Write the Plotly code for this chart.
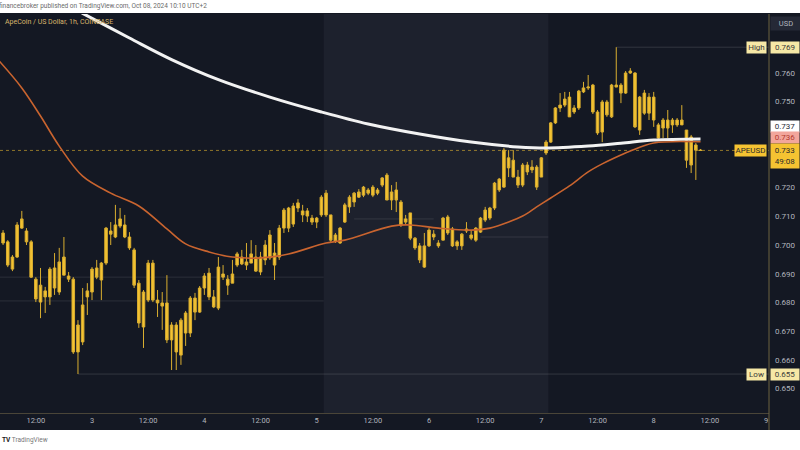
import pandas as pd
import plotly.graph_objects as go

# ---- APE/USD hourly bars (UTC+2), first bar 2024-10-02 05:00 ----
bar_start = "2024-10-02 05:00"

open_ = [
    0.7042, 0.7011, 0.6916, 0.6958, 0.7059, 0.7049, 0.7011, 0.6881, 0.6801, 0.6840,
    0.6819, 0.6920, 0.6836, 0.6895, 0.6892, 0.6881, 0.6627, 0.6662, 0.6819, 0.6836,
    0.6920, 0.6878, 0.6937, 0.7049, 0.7028, 0.7066, 0.7070, 0.7028, 0.6983, 0.6867,
    0.6714, 0.6808, 0.6937, 0.6808, 0.6798, 0.6798, 0.6669, 0.6721, 0.6616, 0.6693,
    0.6693, 0.6815, 0.6766, 0.6850, 0.6902, 0.6819, 0.6780, 0.6899, 0.6881, 0.6867,
    0.6930, 0.6958, 0.6941, 0.6937, 0.6958, 0.6906, 0.6948, 0.6955, 0.6972, 0.6958,
    0.7059, 0.7129, 0.7073, 0.7129, 0.7119, 0.7119, 0.7094, 0.7094, 0.7105, 0.7105,
    0.7105, 0.7035, 0.7007, 0.7080, 0.7133, 0.7150, 0.7167, 0.7174, 0.7192, 0.7174,
    0.7192, 0.7209, 0.7244, 0.7157, 0.7192, 0.7150, 0.7091, 0.7112, 0.7024, 0.6997,
    0.6923, 0.6997, 0.7038, 0.7007, 0.7017, 0.7098, 0.7056, 0.7011, 0.6997, 0.7049,
    0.7035, 0.7017, 0.7045, 0.7087, 0.7094, 0.7129, 0.7192, 0.7202, 0.7304, 0.7296,
    0.7237, 0.7209, 0.7279, 0.7272, 0.7272, 0.7237, 0.7321, 0.7359, 0.7426, 0.7478,
    0.7488, 0.7516, 0.7464, 0.7478, 0.7534, 0.7548, 0.7558, 0.7464, 0.7394, 0.7499,
    0.7447, 0.7551, 0.7558, 0.7530, 0.7600, 0.7600, 0.7401, 0.7530, 0.7516, 0.7516,
    0.7419, 0.7408, 0.7436, 0.7419, 0.7436, 0.7419, 0.7401, 0.7377, 0.7349, 0.7331,
]
high = [
    0.7052, 0.7017, 0.6965, 0.7080, 0.7119, 0.7059, 0.7017, 0.6888, 0.6920, 0.6854,
    0.6923, 0.6972, 0.6990, 0.7028, 0.6906, 0.6888, 0.6738, 0.6850, 0.6867, 0.6923,
    0.6948, 0.6941, 0.7063, 0.7080, 0.7140, 0.7129, 0.7105, 0.7045, 0.6990, 0.6878,
    0.6843, 0.6948, 0.6948, 0.6843, 0.6836, 0.6895, 0.6731, 0.6731, 0.6745, 0.6770,
    0.6822, 0.6833, 0.6857, 0.6902, 0.6920, 0.6843, 0.6958, 0.6930, 0.6895, 0.6948,
    0.6976, 0.6983, 0.7007, 0.7017, 0.7000, 0.6976, 0.7017, 0.7052, 0.7007, 0.7070,
    0.7129, 0.7133, 0.7147, 0.7160, 0.7140, 0.7129, 0.7105, 0.7098, 0.7174, 0.7192,
    0.7105, 0.7042, 0.7063, 0.7147, 0.7174, 0.7185, 0.7195, 0.7206, 0.7199, 0.7209,
    0.7199, 0.7237, 0.7251, 0.7209, 0.7220, 0.7157, 0.7105, 0.7112, 0.7028, 0.7007,
    0.7042, 0.7059, 0.7052, 0.7017, 0.7098, 0.7105, 0.7063, 0.7017, 0.7042, 0.7080,
    0.7052, 0.7063, 0.7098, 0.7133, 0.7133, 0.7220, 0.7234, 0.7338, 0.7331, 0.7331,
    0.7262, 0.7286, 0.7290, 0.7296, 0.7279, 0.7307, 0.7366, 0.7429, 0.7481, 0.7530,
    0.7534, 0.7534, 0.7488, 0.7541, 0.7569, 0.7593, 0.7562, 0.7471, 0.7506, 0.7506,
    0.7562, 0.7690, 0.7565, 0.7607, 0.7617, 0.7603, 0.7520, 0.7541, 0.7530, 0.7534,
    0.7426, 0.7443, 0.7471, 0.7443, 0.7443, 0.7488, 0.7401, 0.7384, 0.7356, 0.7335,
]
low = [
    0.7000, 0.6923, 0.6909, 0.6955, 0.7056, 0.7000, 0.6885, 0.6801, 0.6745, 0.6763,
    0.6791, 0.6826, 0.6826, 0.6895, 0.6871, 0.6620, 0.6550, 0.6651, 0.6756, 0.6808,
    0.6881, 0.6808, 0.6930, 0.7000, 0.7024, 0.7059, 0.7024, 0.6983, 0.6850, 0.6711,
    0.6641, 0.6801, 0.6801, 0.6749, 0.6704, 0.6658, 0.6564, 0.6564, 0.6582, 0.6648,
    0.6679, 0.6738, 0.6763, 0.6826, 0.6808, 0.6780, 0.6773, 0.6878, 0.6826, 0.6867,
    0.6923, 0.6930, 0.6913, 0.6937, 0.6906, 0.6895, 0.6930, 0.6948, 0.6878, 0.6948,
    0.7042, 0.7045, 0.7063, 0.7115, 0.7080, 0.7080, 0.7070, 0.7059, 0.7098, 0.7098,
    0.7011, 0.7007, 0.7004, 0.7077, 0.7112, 0.7133, 0.7164, 0.7167, 0.7174, 0.7167,
    0.7174, 0.7202, 0.7157, 0.7122, 0.7115, 0.7063, 0.7070, 0.7017, 0.6983, 0.6937,
    0.6920, 0.6993, 0.7017, 0.6990, 0.7017, 0.7035, 0.6993, 0.6983, 0.6983, 0.7042,
    0.7017, 0.7011, 0.7042, 0.7080, 0.7087, 0.7122, 0.7185, 0.7199, 0.7237, 0.7237,
    0.7199, 0.7202, 0.7244, 0.7251, 0.7192, 0.7237, 0.7314, 0.7356, 0.7422, 0.7464,
    0.7481, 0.7447, 0.7457, 0.7471, 0.7530, 0.7541, 0.7457, 0.7384, 0.7359, 0.7447,
    0.7443, 0.7551, 0.7495, 0.7527, 0.7597, 0.7408, 0.7384, 0.7454, 0.7436, 0.7412,
    0.7366, 0.7373, 0.7373, 0.7391, 0.7412, 0.7419, 0.7269, 0.7251, 0.7227, 0.7328,
]
close = [
    0.7007, 0.6930, 0.6958, 0.7070, 0.7091, 0.7011, 0.6888, 0.6812, 0.6860, 0.6819,
    0.6916, 0.6850, 0.6941, 0.6958, 0.6881, 0.6627, 0.6721, 0.6791, 0.6840, 0.6916,
    0.6888, 0.6937, 0.7059, 0.7038, 0.7070, 0.7091, 0.7028, 0.6990, 0.6860, 0.6728,
    0.6836, 0.6937, 0.6808, 0.6798, 0.6787, 0.6669, 0.6721, 0.6627, 0.6738, 0.6763,
    0.6815, 0.6766, 0.6850, 0.6892, 0.6819, 0.6784, 0.6923, 0.6888, 0.6860, 0.6899,
    0.6969, 0.6934, 0.6930, 0.6969, 0.6909, 0.6958, 0.7000, 0.7035, 0.6930, 0.7059,
    0.7122, 0.7059, 0.7136, 0.7147, 0.7105, 0.7101, 0.7080, 0.7080, 0.7167, 0.7181,
    0.7017, 0.7014, 0.7059, 0.7140, 0.7167, 0.7181, 0.7185, 0.7202, 0.7181, 0.7202,
    0.7181, 0.7234, 0.7157, 0.7185, 0.7157, 0.7070, 0.7080, 0.7024, 0.6990, 0.6948,
    0.6997, 0.7052, 0.7028, 0.6997, 0.7094, 0.7042, 0.6997, 0.6997, 0.7038, 0.7056,
    0.7024, 0.7059, 0.7094, 0.7122, 0.7129, 0.7216, 0.7230, 0.7331, 0.7269, 0.7237,
    0.7209, 0.7279, 0.7255, 0.7262, 0.7202, 0.7304, 0.7359, 0.7426, 0.7478, 0.7488,
    0.7509, 0.7447, 0.7478, 0.7537, 0.7548, 0.7551, 0.7464, 0.7391, 0.7499, 0.7454,
    0.7558, 0.7558, 0.7530, 0.7600, 0.7607, 0.7412, 0.7516, 0.7460, 0.7460, 0.7436,
    0.7373, 0.7436, 0.7408, 0.7436, 0.7419, 0.7436, 0.7296, 0.7279, 0.7331, 0.7330,
]

# ---- moving averages (white: slow, orange: fast) ----
ma_slow_time = [
    "2024-10-02 17:00", "2024-10-02 22:00", "2024-10-03 08:00", "2024-10-03 17:00",
    "2024-10-04 03:00", "2024-10-04 14:00", "2024-10-05 01:00", "2024-10-05 11:00",
    "2024-10-05 22:00", "2024-10-06 09:00", "2024-10-06 19:00", "2024-10-07 01:00",
    "2024-10-07 10:00", "2024-10-07 17:00", "2024-10-08 00:00", "2024-10-08 10:00",
]
ma_slow = [
    0.7849, 0.7808, 0.7722, 0.7647, 0.7577, 0.7516, 0.7464, 0.7422,
    0.7387, 0.7359, 0.7342, 0.7338, 0.7345, 0.7355, 0.7366, 0.7370,
]
ma_fast_time = [
    "2024-10-02 04:00", "2024-10-02 09:00", "2024-10-02 13:00", "2024-10-02 17:00",
    "2024-10-02 22:00", "2024-10-03 04:00", "2024-10-03 10:00", "2024-10-03 16:00",
    "2024-10-03 20:00", "2024-10-04 01:00", "2024-10-04 06:00", "2024-10-04 12:00",
    "2024-10-04 18:00", "2024-10-05 02:00", "2024-10-05 06:00", "2024-10-05 16:00",
    "2024-10-05 20:00", "2024-10-06 02:00", "2024-10-06 09:00", "2024-10-06 13:00",
    "2024-10-06 17:00", "2024-10-06 20:00", "2024-10-06 23:00", "2024-10-07 02:00",
    "2024-10-07 06:00", "2024-10-07 10:00", "2024-10-07 13:00", "2024-10-07 17:00",
    "2024-10-07 19:00", "2024-10-08 00:00", "2024-10-08 10:00",
]
ma_fast = [
    0.7645, 0.7548, 0.7450, 0.7345, 0.7240, 0.7181, 0.7136, 0.7056,
    0.7004, 0.6976, 0.6958, 0.6955, 0.6969, 0.7007, 0.7017, 0.7066,
    0.7070, 0.7059, 0.7052, 0.7059, 0.7080, 0.7101, 0.7133, 0.7164,
    0.7206, 0.7255, 0.7283, 0.7314, 0.7328, 0.7356, 0.7360,
]

# ---- axis ticks ----
price_ticks = [0.650, 0.660, 0.670, 0.680, 0.690, 0.700, 0.710, 0.720, 0.750, 0.760]
time_ticks = pd.date_range("2024-10-02 12:00", "2024-10-09 00:00", freq="12h")
time_tick_text = ["12:00", "3", "12:00", "4", "12:00", "5", "12:00", "6",
                  "12:00", "7", "12:00", "8", "12:00", "9"]

last_price = 0.733
session_high = 0.769
session_low = 0.655
ma_slow_last = 0.737
ma_fast_last = 0.736

x_range = ["2024-10-02 04:20:36", "2024-10-09 00:37:48"]
y_range = [0.64141, 0.78058]

times = pd.date_range(bar_start, periods=len(open_), freq="h")

BG = "#141823"
BAND = "#1d212d"
GOLD = "#f5c332"
AXIS_TXT = "#b2b5be"
FONT = "Roboto"

fig = go.Figure()

fig.add_trace(go.Scatter(
    x=ma_slow_time, y=ma_slow, mode="lines",
    line=dict(color="#f2f2f2", width=3, shape="spline", smoothing=1.0),
    hoverinfo="skip", showlegend=False,
))
fig.add_trace(go.Scatter(
    x=ma_fast_time, y=ma_fast, mode="lines",
    line=dict(color="#c9642f", width=1.6, shape="spline", smoothing=1.0),
    hoverinfo="skip", showlegend=False,
))
fig.add_trace(go.Candlestick(
    x=times, open=open_, high=high, low=low, close=close,
    increasing=dict(line=dict(color="#d9ae30", width=1), fillcolor=GOLD),
    decreasing=dict(line=dict(color="#d9ae30", width=1), fillcolor=GOLD),
    whiskerwidth=0, hoverinfo="skip", showlegend=False,
))

# pixel helpers in paper space (plot area 769 x 399, top at 14)
def px_x(px):
    return px / 769.0

def px_y(py):
    return (413.0 - py) / 399.0

level_line = dict(color="rgba(200,200,210,0.13)", width=1)
extreme_line = dict(color="rgba(210,210,210,0.16)", width=1)

shapes = [
    # dark chart canvas incl. axis strips
    dict(type="rect", xref="paper", yref="paper", x0=0, x1=px_x(800),
         y0=px_y(430), y1=px_y(13), fillcolor=BG, line=dict(width=0), layer="below"),
    # weekend session band
    dict(type="rect", xref="x", yref="paper", x0="2024-10-05 01:30", x1="2024-10-07 01:30",
         y0=0, y1=1, fillcolor=BAND, line=dict(width=0), layer="below"),
    # faint drawn levels
    dict(type="line", xref="x", yref="y", x0=x_range[0], x1="2024-10-05 01:30",
         y0=0.6888, y1=0.6888, line=level_line, layer="below"),
    dict(type="line", xref="x", yref="y", x0=x_range[0], x1="2024-10-05 01:30",
         y0=0.6805, y1=0.6805, line=level_line, layer="below"),
    dict(type="line", xref="x", yref="y", x0="2024-10-05 08:00", x1="2024-10-06 01:00",
         y0=0.7091, y1=0.7091, line=level_line, layer="below"),
    dict(type="line", xref="x", yref="y", x0="2024-10-06 11:00", x1="2024-10-07 01:30",
         y0=0.7028, y1=0.7028, line=level_line, layer="below"),
    # high / low markers
    dict(type="line", xref="x", yref="y", x0=times[131], x1=x_range[1],
         y0=session_high, y1=session_high, line=extreme_line, layer="below"),
    dict(type="line", xref="x", yref="y", x0=times[16], x1=x_range[1],
         y0=session_low, y1=session_low, line=extreme_line, layer="below"),
    # last price line
    dict(type="line", xref="paper", yref="y", x0=0, x1=1, y0=last_price, y1=last_price,
         line=dict(color="rgba(245,195,50,0.55)", width=1, dash="dot"), layer="below"),
    # price scale border
    dict(type="line", xref="paper", yref="paper", x0=1, x1=1, y0=px_y(430), y1=px_y(14),
         line=dict(color="#6d6340", width=1), layer="above"),
]

def value_box(text, y, bg, fg, yshift=0, height=11):
    return dict(xref="paper", yref="y", x=1, y=y, xanchor="left", yanchor="middle",
                xshift=1, yshift=yshift, text=text, showarrow=False, width=28, height=height,
                bgcolor=bg, borderpad=0, align="center", font=dict(family=FONT, size=8, color=fg))

def tag_box(text, y, bg, fg, width, yshift=0):
    return dict(xref="paper", yref="y", x=1, y=y, xanchor="right", yanchor="middle",
                xshift=-2, yshift=yshift, text=text, showarrow=False, width=width, height=11,
                bgcolor=bg, borderpad=0, align="center", font=dict(family=FONT, size=8, color=fg))

annotations = [
    dict(xref="paper", yref="paper", x=px_x(-3), y=px_y(6.5), xanchor="left", yanchor="middle",
         text="financebroker published on TradingView.com, Oct 08, 2024 10:10 UTC+2",
         showarrow=False, font=dict(family=FONT, size=6.5, color="#6a6a6a")),
    dict(xref="paper", yref="paper", x=px_x(3), y=px_y(22), xanchor="left", yanchor="middle",
         text="ApeCoin / US Dollar, 1h, COINBASE", showarrow=False,
         font=dict(family=FONT, size=7, color="#d8b66c")),
    dict(xref="paper", yref="paper", x=px_x(0), y=px_y(440), xanchor="left", yanchor="middle",
         text="<b>TV</b> <span style='color:#777'>TradingView</span>", showarrow=False,
         font=dict(family=FONT, size=6.5, color="#222")),
    dict(xref="paper", yref="paper", x=1, y=px_y(23), xanchor="left", yanchor="middle",
         xshift=1, text="USD", showarrow=False, width=28, height=11, bgcolor="#252936",
         font=dict(family=FONT, size=7.5, color=AXIS_TXT)),
    tag_box("High", session_high, "#f6e8a6", "#3a3a3a", 19),
    value_box(f"{session_high:.3f}", session_high, "#f6e8a6", "#3a3a3a"),
    value_box(f"{ma_slow_last:.3f}", ma_slow_last, "#ffffff", "#2a2e39", yshift=12),
    value_box(f"{ma_fast_last:.3f}", ma_fast_last, "#f2a69c", "#b23a2e", yshift=4),
    value_box(f"{last_price:.3f}<br>49:08", last_price, GOLD, "#2a2a2a", yshift=-5.5, height=24),
    tag_box("APEUSD", last_price, GOLD, "#2a2a2a", 31),
    tag_box("Low", session_low, "#f6e8a6", "#3a3a3a", 19),
    value_box(f"{session_low:.3f}", session_low, "#f6e8a6", "#3a3a3a"),
]

fig.update_layout(
    width=800, height=450,
    margin=dict(l=0, r=31, t=14, b=37),
    paper_bgcolor="white", plot_bgcolor="rgba(0,0,0,0)",
    boxgap=0.22,
    showlegend=False,
    shapes=shapes, annotations=annotations,
    xaxis=dict(
        type="date", range=x_range, rangeslider=dict(visible=False),
        tickvals=list(time_ticks), ticktext=time_tick_text,
        tickfont=dict(family=FONT, size=7.5, color=AXIS_TXT),
        showgrid=False, zeroline=False, showline=True, linecolor="#4a4538", linewidth=1,
        ticks="", fixedrange=True,
    ),
    yaxis=dict(
        side="right", range=y_range, tickvals=price_ticks,
        ticktext=[f"{v:.3f}" for v in price_ticks],
        tickfont=dict(family=FONT, size=8, color=AXIS_TXT),
        showgrid=False, zeroline=False, showline=False, ticks="",
        ticklabelstandoff=5, fixedrange=True,
    ),
)

fig.write_html("out.html")
